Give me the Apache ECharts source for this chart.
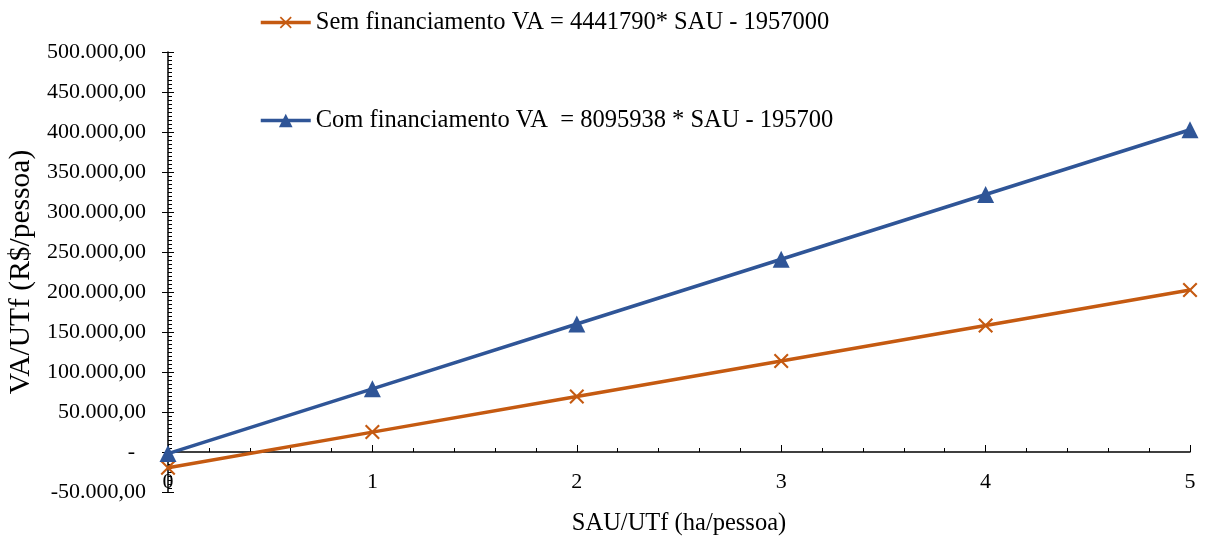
<!DOCTYPE html>
<html>
<head>
<meta charset="utf-8">
<script src="https://cdn.jsdelivr.net/npm/echarts@6/dist/echarts.min.js"></script>
<style>html,body{margin:0;padding:0;background:#fff}#c{width:1208px;height:538px}</style>
</head>
<body>
<div id="c"></div>
<script>
const sau = [0, 1, 2, 3, 4, 5];
const semFin = [-19570, 24850, 69270, 113680, 158100, 202520];
const comFin = [-1960, 79000, 159960, 240920, 321880, 402840];
const seriesNames = ['Sem financiamento VA = 4441790* SAU - 1957000', 'Com financiamento VA  = 8095938 * SAU - 195700'];
const yTitle = 'VA/UTf (R$/pessoa)';
const xTitle = 'SAU/UTf (ha/pessoa)';

function fmt(v) {
  if (v === 0) return '-  ';
  const neg = v < 0;
  const s = Math.abs(Math.round(v)).toString().replace(/\B(?=(\d{3})+(?!\d))/g, '.');
  return (neg ? '-' : '') + s + ',00';
}
const FONT = 'Liberation Serif';
const crossPath = 'path://M0,1 L1,0 L5,4 L9,0 L10,1 L6,5 L10,9 L9,10 L5,6 L1,10 L0,9 L4,5 Z';
const chart = echarts.init(document.getElementById('c'));
chart.setOption({
  animation: false,
  grid: { left: 168, right: 18, top: 52, bottom: 46, containLabel: false, outerBoundsMode: 'none' },
  legend: [
    { data: [seriesNames[0]], left: 254, top: 5, itemWidth: 50, itemHeight: 15,
      lineStyle: { width: 3.5 },
      textStyle: { fontFamily: FONT, fontSize: 24.5, color: '#000' } },
    { data: [seriesNames[1]], left: 254, top: 103, itemWidth: 50, itemHeight: 17,
      lineStyle: { width: 3.5 },
      textStyle: { fontFamily: FONT, fontSize: 24.5, color: '#000' } }
  ],
  xAxis: {
    type: 'value', min: 0, max: 5, interval: 1,
    axisLine: { onZero: true, lineStyle: { color: '#000', width: 1.5 } },
    axisTick: { inside: true, length: 7, lineStyle: { color: '#000' } },
    minorTick: { show: true, splitNumber: 5, length: 4, lineStyle: { color: '#000' } },
    splitLine: { show: false },
    axisLabel: { fontFamily: FONT, fontSize: 22, color: '#000', margin: -21 },
    name: xTitle, nameLocation: 'middle', nameGap: 19,
    nameTextStyle: { fontFamily: FONT, fontSize: 24.5, color: '#000' }
  },
  yAxis: [
    {
      type: 'value', min: -50000, max: 500000, interval: 50000, position: 'left', offset: 0,
      axisLine: { show: true, onZero: false, lineStyle: { color: '#000', width: 1.5 } },
      axisTick: { show: true, inside: true, length: 6, lineStyle: { color: '#000' } },
      minorTick: { show: true, splitNumber: 10, length: 4, lineStyle: { color: '#000' } },
      splitLine: { show: false },
      axisLabel: { fontFamily: FONT, fontSize: 22, color: '#000', margin: 22, formatter: fmt },
      name: yTitle, nameLocation: 'middle', nameGap: 132,
      nameTextStyle: { fontFamily: FONT, fontSize: 29.5, color: '#000' }
    },
    {
      type: 'value', min: -50000, max: 500000, interval: 50000, position: 'left', offset: 0,
      axisLine: { show: false },
      axisTick: { show: true, inside: false, length: 6, lineStyle: { color: '#000' } },
      splitLine: { show: false },
      axisLabel: { show: false }
    }
  ],
  series: [
    {
      name: seriesNames[0], type: 'line', yAxisIndex: 0,
      data: sau.map((x, i) => [x, semFin[i]]),
      symbol: crossPath, symbolSize: 15,
      lineStyle: { color: '#C55A11', width: 3.5 },
      itemStyle: { color: '#C55A11' }
    },
    {
      name: seriesNames[1], type: 'line', yAxisIndex: 0,
      data: sau.map((x, i) => [x, comFin[i]]),
      symbol: 'triangle', symbolSize: 17,
      lineStyle: { color: '#2F5597', width: 3.5 },
      itemStyle: { color: '#2F5597' }
    }
  ]
});
</script>
</body>
</html>
